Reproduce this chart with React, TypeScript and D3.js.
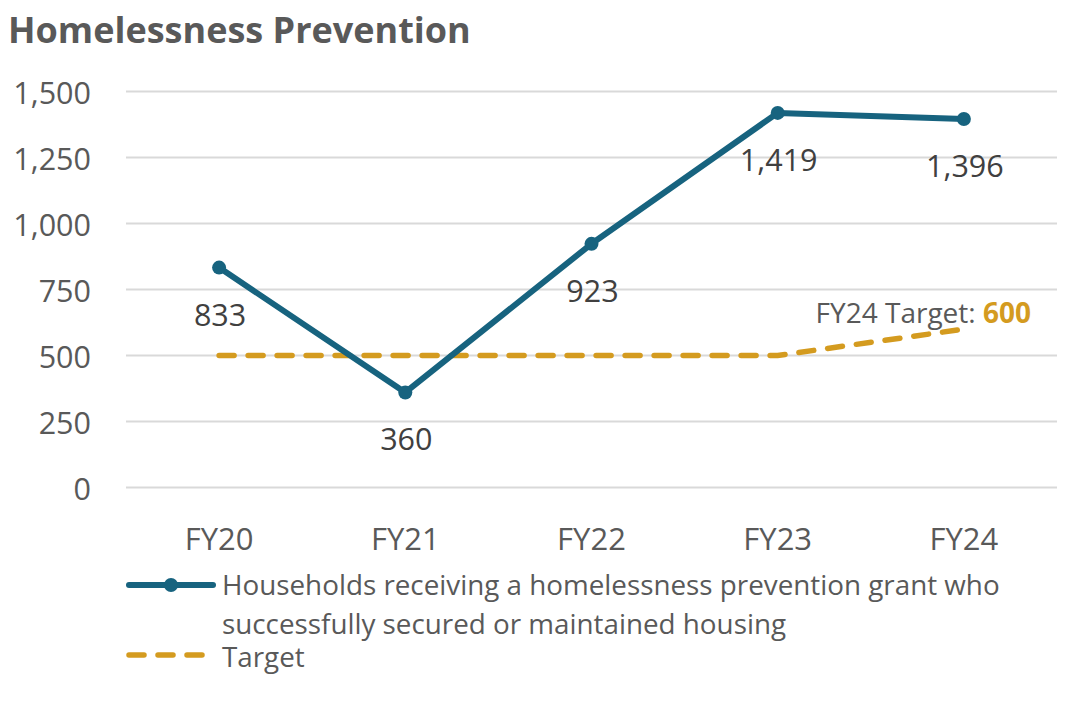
import React from "react";
import * as d3 from "d3";

const categories = ["FY20", "FY21", "FY22", "FY23", "FY24"];
const householdValues = [833, 360, 923, 1419, 1396];
const targetValues = [500, 500, 500, 500, 600];
const yTicks = [0, 250, 500, 750, 1000, 1250, 1500];

const W = 1089;
const H = 705;
const FONT = "'Open Sans', 'Noto Sans', sans-serif";
const BLUE = "#17637F";
const GOLD = "#D49B1F";
const GRAY = "#595959";
const DARK = "#404040";

export default function App() {
  const x = d3.scalePoint<string>().domain(categories).range([126, 1057]).padding(0.5);
  const y = d3.scaleLinear().domain([0, 1500]).range([487.5, 91.5]);
  const line = d3
    .line<number>()
    .x((_, i) => x(categories[i]) as number)
    .y((d) => y(d));
  const fmt = d3.format(",");

  return (
    <div style={{ margin: -8 }}>
      <svg width={W} height={H} style={{ display: "block", fontFamily: FONT }}>
        <rect width={W} height={H} fill="#fff" />
        <text x={8} y={43} fontSize={36} fontWeight={700} fill={GRAY}>
          Homelessness Prevention
        </text>
        {yTicks.map((t) => (
          <g key={t}>
            <line x1={126} x2={1057} y1={y(t)} y2={y(t)} stroke="#D9D9D9" strokeWidth={2} />
            <text x={91} y={y(t)} textAnchor="end" dominantBaseline="central" fontSize={30.5} fill={GRAY}>
              {fmt(t)}
            </text>
          </g>
        ))}
        {categories.map((c) => (
          <text key={c} x={x(c)} y={538} textAnchor="middle" dominantBaseline="central" fontSize={31} fill={GRAY}>
            {c}
          </text>
        ))}
        <path
          d={line(targetValues) || ""}
          fill="none"
          stroke={GOLD}
          strokeWidth={5.5}
          strokeDasharray="15 14"
          strokeLinecap="round"
        />
        <path d={line(householdValues) || ""} fill="none" stroke={BLUE} strokeWidth={6} strokeLinejoin="round" />
        {householdValues.map((v, i) => (
          <circle key={i} cx={x(categories[i])} cy={y(v)} r={7} fill={BLUE} />
        ))}
        {householdValues.map((v, i) => (
          <text
            key={"l" + i}
            x={(x(categories[i]) as number) + 1}
            y={y(v) + 46}
            textAnchor="middle"
            dominantBaseline="central"
            fontSize={30.5}
            fill={DARK}
          >
            {fmt(v)}
          </text>
        ))}
        <text x={1031} y={312} textAnchor="end" dominantBaseline="central" fontSize={28} fill={GRAY}>
          FY24 Target:{" "}
          <tspan fontWeight={700} fill={GOLD}>
            {targetValues[4]}
          </tspan>
        </text>
        {/* legend */}
        <line x1={129} x2={213} y1={585} y2={585} stroke={BLUE} strokeWidth={6} strokeLinecap="round" />
        <circle cx={171} cy={585} r={7} fill={BLUE} />
        <text x={222} y={584} dominantBaseline="central" fontSize={27.8} fill={GRAY}>
          Households receiving a homelessness prevention grant who
        </text>
        <text x={222} y={623} dominantBaseline="central" fontSize={27.8} fill={GRAY}>
          successfully secured or maintained housing
        </text>
        <line
          x1={129}
          x2={207}
          y1={655}
          y2={655}
          stroke={GOLD}
          strokeWidth={5.5}
          strokeDasharray="15 14"
          strokeLinecap="round"
        />
        <text x={222} y={656} dominantBaseline="central" fontSize={27.8} fill={GRAY}>
          Target
        </text>
      </svg>
    </div>
  );
}
